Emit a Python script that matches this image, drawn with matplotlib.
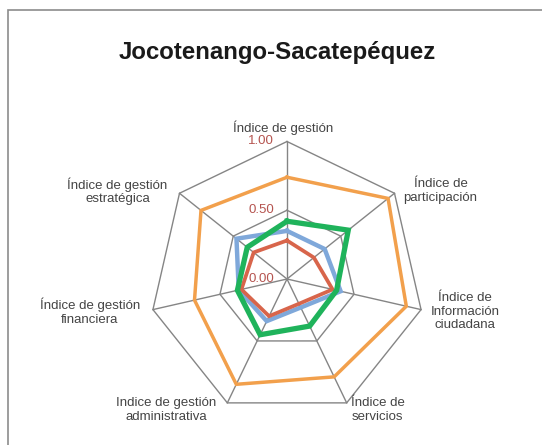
import numpy as np
import matplotlib
matplotlib.use('Agg')
import matplotlib.pyplot as plt
from matplotlib.patches import Rectangle

plt.rcParams['font.family'] = ['Liberation Sans', 'DejaVu Sans']

categorias = ['Índice de gestión', 'Índice de\nparticipación', 'Índice de\nInformación\nciudadana',
              'Índice de\nservicios', 'Indice de gestión\nadministrativa',
              'Índice de gestión\nfinanciera', 'Índice de gestión\nestratégica']
serie_naranja = [0.74, 0.94, 0.89, 0.79, 0.85, 0.69, 0.80]
serie_azul = [0.35, 0.35, 0.40, 0.23, 0.34, 0.36, 0.47]
serie_roja = [0.28, 0.25, 0.34, 0.20, 0.30, 0.34, 0.31]
serie_verde = [0.42, 0.57, 0.37, 0.38, 0.45, 0.37, 0.37]
ticks = [0.0, 0.5, 1.0]
tick_labels = ['0.00', '0.50', '1.00']

W, H = 542, 445
cx, cy, R = 287, 279, 137.5

fig = plt.figure(figsize=(W / 100, H / 100), dpi=100)
ax = fig.add_axes([0, 0, 1, 1])
ax.set_xlim(-cx / R, (W - cx) / R)
ax.set_ylim(-(H - cy) / R, cy / R)
ax.axis('off')

n = len(categorias)
ang = np.pi / 2 - np.arange(n) * 2 * np.pi / n

def xy(vals):
    v = np.asarray(vals)
    x = v * np.cos(ang)
    y = v * np.sin(ang)
    return np.append(x, x[0]), np.append(y, y[0])

# rejilla heptagonal y radios
gris = '#858585'
for t in ticks[1:]:
    gx, gy = xy([t] * n)
    ax.plot(gx, gy, color=gris, lw=1.0, zorder=1)
for a in ang:
    ax.plot([0, np.cos(a)], [0, np.sin(a)], color=gris, lw=1.0, zorder=1)

for vals, col, lw in [(serie_naranja, '#F2A04C', 2.5),
                      (serie_azul, '#7FA8DA', 3.2),
                      (serie_roja, '#D8654B', 2.7),
                      (serie_verde, '#1FB35B', 3.8)]:
    px, py = xy(vals)
    ax.plot(px, py, color=col, lw=lw, solid_joinstyle='miter', zorder=3)

for t, lab in zip(ticks, tick_labels):
    ax.annotate(lab, (0, t), xytext=(-13, 0), textcoords='offset pixels',
                ha='right', va='center', fontsize=9.5, color='#B5544F', zorder=4)

offs = [(-4, 14), (46, 2), (44, -2), (31, -7), (-61, -7), (-63, -2), (-62, 2)]
for k, lab in enumerate(categorias):
    ax.annotate(lab, (np.cos(ang[k]), np.sin(ang[k])), xytext=offs[k],
                textcoords='offset pixels', ha='center', va='center',
                multialignment='center', fontsize=9.5, color='#444444',
                linespacing=1.2)

fig.text(277 / W, 1 - 53 / H, 'Jocotenango-Sacatepéquez', ha='center', va='center',
         fontsize=17.3, fontweight='bold', color='#1a1a1a')

fig.patches.append(Rectangle((8 / W, -0.1), 1.2, 1.1 - 10 / H, transform=fig.transFigure,
                             fill=False, edgecolor='#8c8c8c', lw=1.2))

fig.savefig('out.png', dpi=100, facecolor='white')
